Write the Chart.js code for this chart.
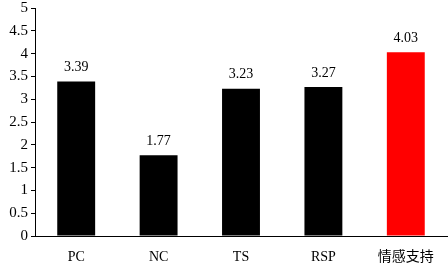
<!DOCTYPE html>
<html>
<head>
<meta charset="utf-8">
<script src="https://cdn.jsdelivr.net/npm/chart.js@4"></script>
<style>
  html, body { margin: 0; padding: 0; background: #fff; }
  #wrap { width: 448px; height: 270px; position: relative; }
</style>
</head>
<body>
<div id="wrap"><canvas id="chart"></canvas></div>
<script>
// Data
const categories = ['PC', 'NC', 'TS', 'RSP', '情感支持'];
const scores = [3.39, 1.77, 3.23, 3.27, 4.03];
const barColors = ['#000000', '#000000', '#000000', '#000000', '#ff0000'];
const yTicks = [0, 0.5, 1, 1.5, 2, 2.5, 3, 3.5, 4, 4.5, 5];

const serif = "'Liberation Serif', 'Times New Roman', 'Noto Sans CJK SC', serif";

// Value labels above bars
const valueLabels = {
    id: 'valueLabels',
    afterDatasetsDraw(chart) {
        const ctx = chart.ctx;
        const meta = chart.getDatasetMeta(0);
        ctx.save();
        ctx.font = "14px " + serif;
        ctx.fillStyle = '#000';
        ctx.textAlign = 'center';
        ctx.textBaseline = 'bottom';
        meta.data.forEach((bar, i) => {
            ctx.fillText(scores[i].toFixed(2), bar.x, bar.y - 7);
        });
        ctx.restore();
    }
};

new Chart(document.getElementById('chart'), {
    type: 'bar',
    data: {
        labels: categories,
        datasets: [{
            data: scores,
            backgroundColor: barColors,
            borderWidth: 0,
            barPercentage: 0.46,
            categoryPercentage: 1
        }]
    },
    options: {
        responsive: true,
        maintainAspectRatio: false,
        animation: false,
        layout: { padding: { top: 8, right: 1, left: 0, bottom: 0 } },
        plugins: {
            legend: { display: false },
            tooltip: { enabled: false }
        },
        scales: {
            x: {
                grid: { display: false, drawTicks: false },
                border: { display: true, color: '#000', width: 1 },
                ticks: {
                    color: '#000',
                    font: { family: serif, size: 14 },
                    padding: 13
                },
                afterFit(scale) { scale.height = 34; }
            },
            y: {
                min: 0,
                max: 5,
                afterBuildTicks(scale) {
                    scale.ticks = yTicks.map(v => ({ value: v }));
                },
                grid: {
                    drawOnChartArea: false,
                    drawTicks: true,
                    tickLength: 4,
                    color: '#000'
                },
                border: { display: true, color: '#000', width: 1 },
                ticks: {
                    color: '#000',
                    font: { family: serif, size: 15 },
                    padding: 3,
                    callback: (v) => String(v)
                },
                afterFit(scale) {
                    scale.width = 35;
                    scale.paddingTop = 0;
                    scale.paddingBottom = 0;
                }
            }
        }
    },
    plugins: [valueLabels]
});
</script>
</body>
</html>
